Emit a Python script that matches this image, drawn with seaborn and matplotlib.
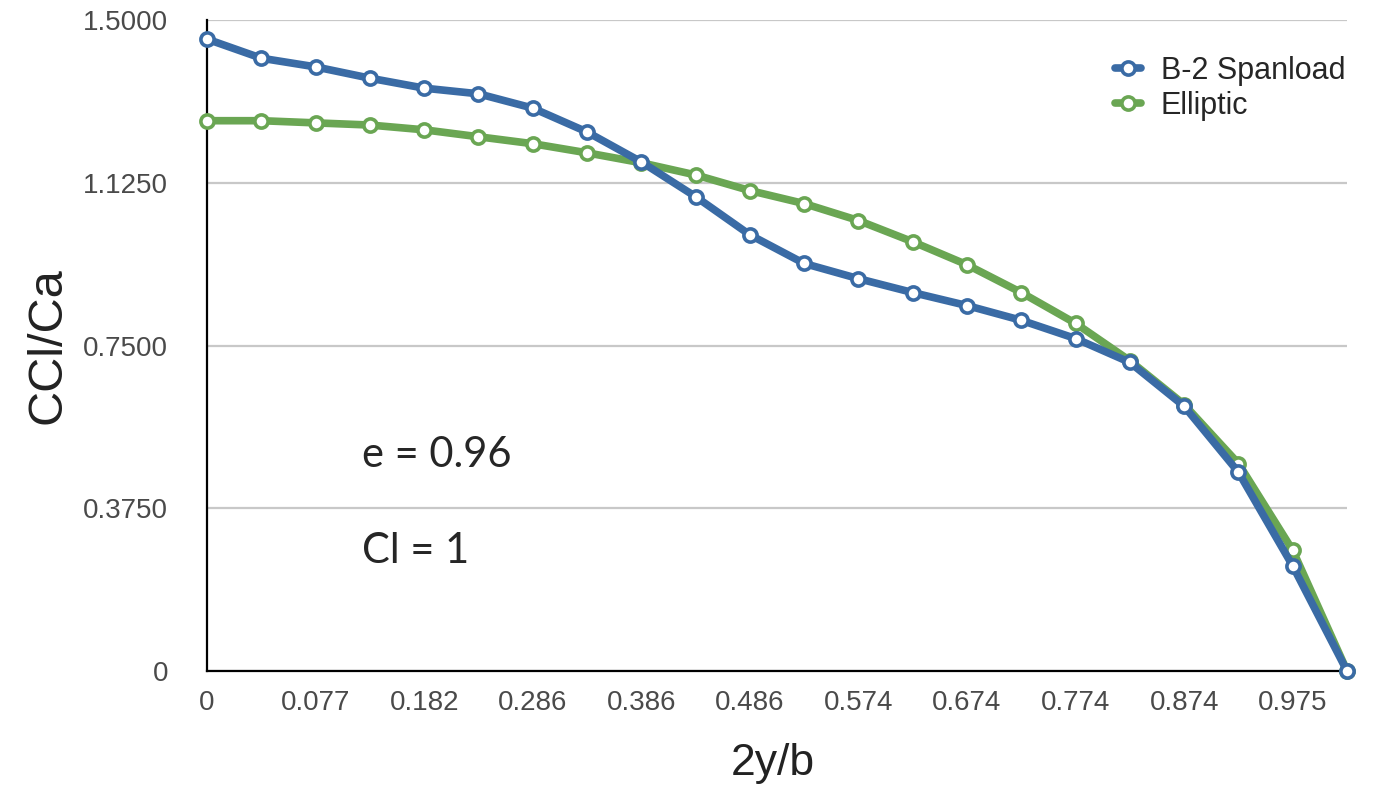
import numpy as np
import pandas as pd
import seaborn as sns
import matplotlib.pyplot as plt
from matplotlib.lines import Line2D

# spanwise stations (categorical axis, 22 points)
station = np.arange(22)
x_tick_labels = ["0", "0.077", "0.182", "0.286", "0.386", "0.486",
                 "0.574", "0.674", "0.774", "0.874", "0.975"]

b2_spanload = [1.456, 1.412, 1.392, 1.366, 1.343, 1.330, 1.297, 1.242,
               1.173, 1.093, 1.005, 0.939, 0.904, 0.872, 0.842, 0.808,
               0.766, 0.711, 0.610, 0.458, 0.242, 0.0]
elliptic = [1.268, 1.268, 1.263, 1.258, 1.247, 1.231, 1.215, 1.194,
            1.171, 1.143, 1.107, 1.077, 1.038, 0.989, 0.936, 0.872,
            0.801, 0.715, 0.614, 0.478, 0.278, 0.0]

y_ticks = [0, 0.375, 0.75, 1.125, 1.5]
y_tick_labels = ["0", "0.3750", "0.7500", "1.1250", "1.5000"]

blue = "#3A6BA5"
green = "#6AA653"

sns.set_style("white")
plt.rcParams['font.family'] = ['Liberation Sans', 'DejaVu Sans']

fig = plt.figure(figsize=(13.83, 7.91), dpi=100)
ax = fig.add_axes([0.1497, 0.1517, 0.8243, 0.8230])

df = pd.DataFrame({"station": station, "B-2 Spanload": b2_spanload, "Elliptic": elliptic})

line_kw = dict(linewidth=5.5, marker="o", markersize=9.5, markerfacecolor="white",
               markeredgewidth=2.6, clip_on=False, zorder=5)
sns.lineplot(data=df, x="station", y="Elliptic", color=green, ax=ax,
             markeredgecolor=green, **line_kw)
sns.lineplot(data=df, x="station", y="B-2 Spanload", color=blue, ax=ax,
             markeredgecolor=blue, **line_kw)

ax.set_xlim(0, 21)
ax.set_ylim(0, 1.5)
ax.set_xticks(station[::2])
ax.set_xticklabels(x_tick_labels)
ax.set_yticks(y_ticks)
ax.set_yticklabels(y_tick_labels)
ax.tick_params(axis="y", length=0, pad=28, labelsize=20, labelcolor="#4a4a4a")
ax.tick_params(axis="x", length=0, pad=14, labelsize=20, labelcolor="#4a4a4a")

ax.grid(axis="y", color="#c8c8c8", linewidth=1.6)
ax.grid(axis="x", visible=False)
for s in ["top", "right"]:
    ax.spines[s].set_visible(False)
for s in ["left", "bottom"]:
    ax.spines[s].set_color("black")
    ax.spines[s].set_linewidth(1.6)

ax.set_xlabel("2y/b", fontsize=32, color="#222222")
ax.xaxis.set_label_coords(0.496, -0.11)
ax.set_ylabel("CCl/Ca", fontsize=35, color="#222222")
ax.yaxis.set_label_coords(-0.12, 0.5)

ax.text(0.136, 0.313, "e = 0.96", transform=ax.transAxes, fontsize=30,
        family=["Lato", "DejaVu Sans"], va="baseline")
ax.text(0.136, 0.166, "Cl = 1", transform=ax.transAxes, fontsize=30,
        family=["Lato", "DejaVu Sans"], va="baseline")

handles = [Line2D([], [], color=c, linewidth=5.5, marker="o", markersize=9.5,
                  markerfacecolor="white", markeredgecolor=c, markeredgewidth=2.6)
           for c in (blue, green)]
ax.legend(handles, ["B-2 Spanload", "Elliptic"], loc="upper left",
          bbox_to_anchor=(0.783, 0.968), frameon=False, fontsize=22,
          handlelength=0.85, handletextpad=0.65, labelspacing=0.15, borderpad=0)

fig.savefig("out.png", dpi=100)
